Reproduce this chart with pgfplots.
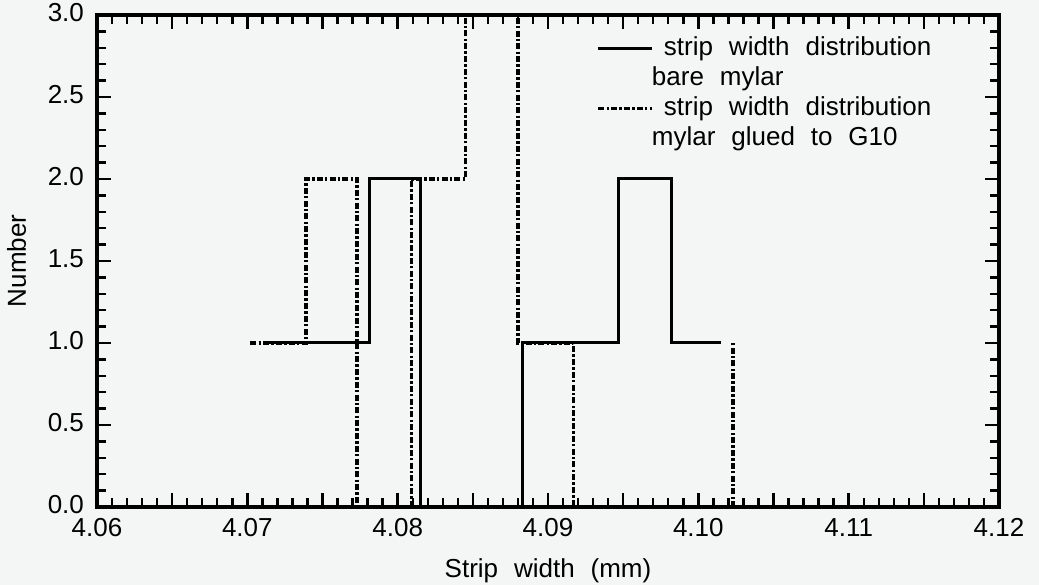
\documentclass[border=0pt]{standalone}
\usepackage{pgfplots}
\pgfplotsset{compat=1.18}
\usepackage{fontspec}
\setmainfont{Liberation Sans}[WordSpace=2.2]
\usetikzlibrary{calc}
\definecolor{bg}{RGB}{244,246,245}
\pagecolor{bg}
\pgfplotsset{
  glued/.style={black, line width=1.6pt, const plot, dash pattern=on 3pt off 1.1pt on 1.2pt off 1.1pt},
  bare/.style={black, line width=1.5pt, const plot},
}
\begin{document}
\begin{tikzpicture}[font=\fontsize{13}{15.6}\selectfont]
\begin{axis}[
  scale only axis, width=451pt, height=246pt,
  xmin=4.06, xmax=4.12, ymin=0, ymax=3,
  xtick={4.06,4.07,4.08,4.09,4.10,4.11,4.12},
  ytick={0,0.5,1,1.5,2,2.5,3},
  extra x ticks={4.065,4.075,4.085,4.095,4.105,4.115},
  extra x tick labels={},
  minor x tick num=9, minor y tick num=4,
  tick align=inside,
  major tick length=7pt, minor tick length=4.5pt,
  every tick/.style={black, line width=1.2pt},
  axis line style={line width=1.7pt},
  scaled x ticks=false,
  /pgf/number format/assume math mode=true,
  xticklabel style={yshift=-1.5pt, text height=9.5pt, text depth=0pt, /pgf/number format/.cd, fixed, fixed zerofill, precision=2},
  yticklabel style={xshift=-3pt, yshift=1pt, /pgf/number format/.cd, fixed, fixed zerofill, precision=1},
  xlabel={Strip width (mm)}, ylabel={Number},
  xlabel shift=4.5pt, ylabel shift=4pt,
  legend style={draw=none, fill=none, at={(rel axis cs:0.547,0.97)}, anchor=north west,
    row sep=0.5pt, column sep=4pt, cells={anchor=west},
    nodes={inner sep=1pt, text height=9.5pt, text depth=3pt}},
  legend image code/.code={\draw[#1] plot coordinates {(0pt,0pt) (13.5pt,0pt) (27pt,0pt)};},
]
\addplot[glued, forget plot] coordinates {
  (4.0702,1) (4.0739,2) (4.0773,0) (4.0809,2) (4.0845,3) (4.0880,1) (4.0917,0) (4.1023,1)};
\addplot[bare] coordinates {
  (4.0712,1) (4.0781,2) (4.0815,0) (4.0883,1) (4.0947,2) (4.0982,1) (4.1015,1)};
\addlegendentry{strip width distribution}
\addlegendimage{empty legend}
\addlegendentry{\hspace*{-6pt}bare mylar}
\addlegendimage{glued}
\addlegendentry{strip width distribution}
\addlegendimage{empty legend}
\addlegendentry{\hspace*{-6pt}mylar glued to G10}
\end{axis}
\pgfresetboundingbox
\path[use as bounding box] ($(current axis.south west)+(-48.5pt,-39pt)$) rectangle ($(current axis.north east)+(20pt,7.5pt)$);
\end{tikzpicture}
\end{document}
